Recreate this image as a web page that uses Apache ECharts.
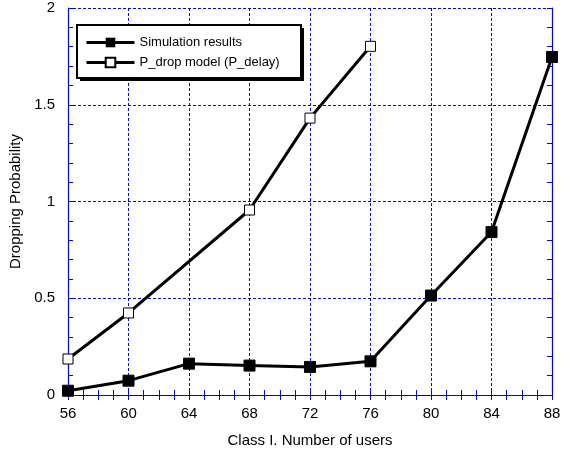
<!DOCTYPE html>
<html><head><meta charset="utf-8">
<script src="https://cdn.jsdelivr.net/npm/echarts@6/dist/echarts.min.js"></script>
<style>html,body{margin:0;padding:0;background:#fff}#c{width:568px;height:454px}</style>
</head><body><div id="c"></div>
<script>
const simX = [56, 60, 64, 68, 72, 76, 80, 84, 88];
const simY = [0.022, 0.074, 0.162, 0.152, 0.145, 0.174, 0.514, 0.842, 1.747];
const modelX = [56, 60, 68, 72, 76];
const modelY = [0.186, 0.424, 0.956, 1.431, 1.802];
const xTicks = [56, 60, 64, 68, 72, 76, 80, 84, 88];
const yTicks = [0, 0.5, 1, 1.5, 2];

const blue = '#0000ff';
const font = 'Liberation Sans, Arial, sans-serif';
const chart = echarts.init(document.getElementById('c'));
const baseX = {
  type: 'value', min: 56, max: 88, interval: 4,
  axisLine: { lineStyle: { color: blue, width: 1.2 } },
  axisTick: { inside: true, length: 5, lineStyle: { color: blue } },
  minorTick: { show: true, splitNumber: 4, length: 5, lineStyle: { color: blue } },
  splitLine: { show: false }
};
const baseY = {
  type: 'value', min: 0, max: 2, interval: 0.5,
  axisLine: { lineStyle: { color: blue, width: 1.2 } },
  axisTick: { inside: true, length: 5, lineStyle: { color: blue } },
  minorTick: { show: true, splitNumber: 5, length: 5, lineStyle: { color: blue } },
  splitLine: { show: false }
};
chart.setOption({
  animation: false,
  grid: { left: 68, right: 16, top: 8, bottom: 59 },
  graphic: [
    { type: 'rect', z: 3, shape: { x: 80, y: 28, width: 224, height: 53 }, style: { fill: '#000' } },
    { type: 'rect', z: 3, shape: { x: 77, y: 25, width: 224, height: 53 }, style: { fill: '#fff', stroke: '#000', lineWidth: 2 } }
  ],
  legend: {
    orient: 'vertical', left: 77, top: 26, z: 5,
    padding: [10, 14, 10, 8], itemGap: 7, itemWidth: 48, itemHeight: 12,
    lineStyle: { width: 3 },
    textStyle: { fontFamily: font, fontSize: 13, color: '#000' },
    data: ['Simulation results', 'P_drop model (P_delay)']
  },
  xAxis: [
    Object.assign({}, baseX, {
      position: 'bottom',
      name: 'Class I. Number of users', nameLocation: 'middle', nameGap: 38,
      nameTextStyle: { fontFamily: font, fontSize: 15, color: '#000' },
      axisLabel: { color: '#000', fontFamily: font, fontSize: 15, margin: 11,
        formatter: v => xTicks.includes(v) ? String(v) : '' },
      splitLine: { show: true, lineStyle: { color: blue, type: [3, 2], width: 1 } }
    }),
    Object.assign({}, baseX, { position: 'top', axisLabel: { show: false } })
  ],
  yAxis: [
    Object.assign({}, baseY, {
      position: 'left',
      name: 'Dropping Probability', nameLocation: 'middle', nameGap: 41,
      nameTextStyle: { fontFamily: font, fontSize: 15, color: '#000' },
      axisLabel: { color: '#000', fontFamily: font, fontSize: 15, margin: 13,
        formatter: v => yTicks.includes(v) ? String(v) : '' },
      splitLine: { show: true, lineStyle: { color: blue, type: [3, 2], width: 1 } }
    }),
    Object.assign({}, baseY, { position: 'right', axisLabel: { show: false } })
  ],
  series: [
    {
      name: 'Simulation results', type: 'line',
      data: simX.map((x, i) => [x, simY[i]]),
      symbol: 'rect', symbolSize: 11,
      lineStyle: { color: '#000', width: 3 },
      itemStyle: { color: '#000', borderColor: '#000' }
    },
    {
      name: 'P_drop model (P_delay)', type: 'line',
      data: modelX.map((x, i) => [x, modelY[i]]),
      symbol: 'rect', symbolSize: 10,
      lineStyle: { color: '#000', width: 3 },
      itemStyle: { color: '#fff', borderColor: '#000', borderWidth: 1 }
    }
  ]
});
</script></body></html>
